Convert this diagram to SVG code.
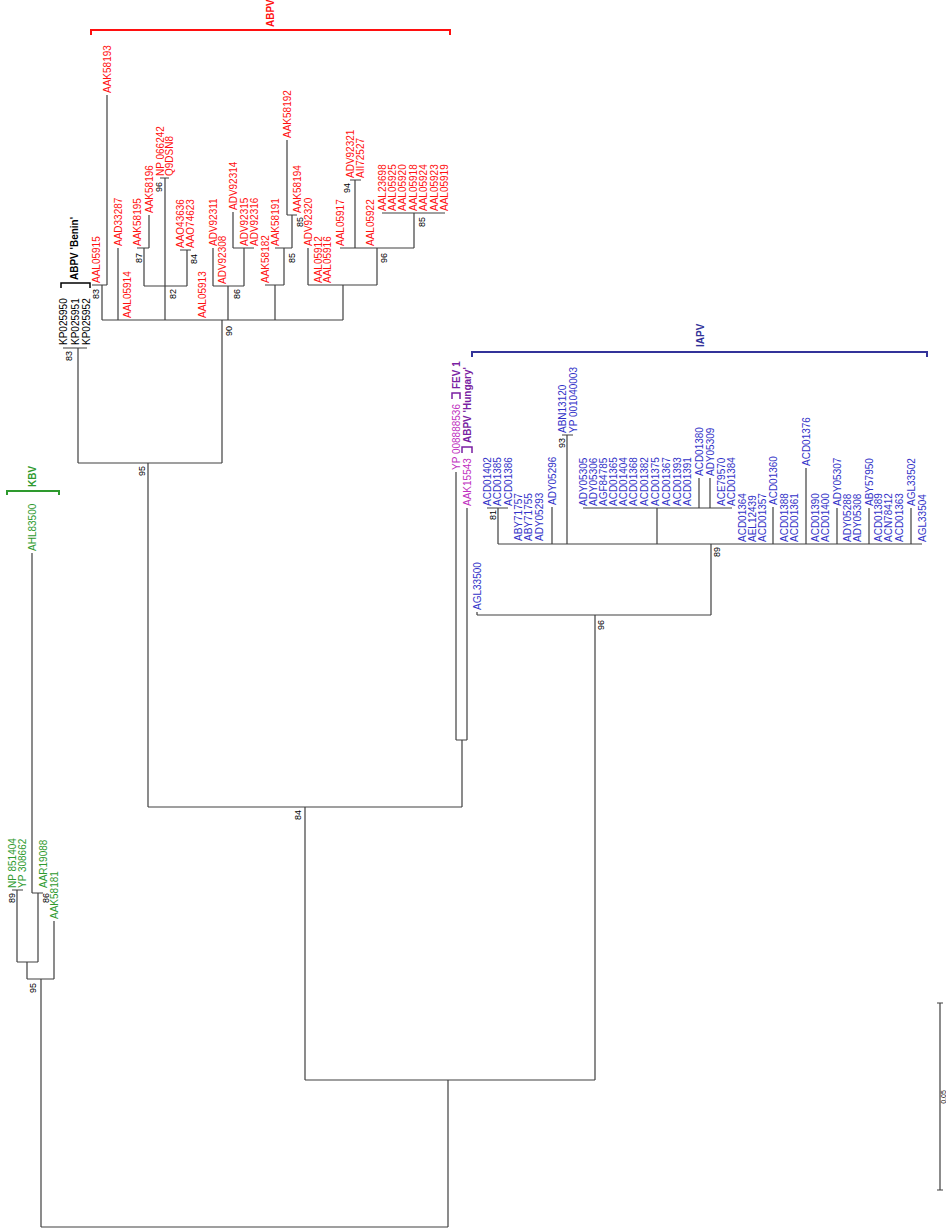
<svg xmlns="http://www.w3.org/2000/svg" width="946" height="1229" viewBox="0 0 946 1229">
<style>
text{font-family:"Liberation Sans",Arial,sans-serif;font-size:10px;dominant-baseline:central}
.r{fill:#ff1010}.k{fill:#000}.b{fill:#3232c8}.p{fill:#c030c0}.g{fill:#2e9a2e}
.bs{font-size:9px;fill:#000;text-anchor:middle}
.hd{font-weight:bold}
.ln{stroke:#404040;stroke-width:1.2;fill:none}
</style>
<rect width="946" height="1229" fill="#fff"/>
<g id="connectors" class="ln">
<path d="M41,1227H448M448,1227V1080M305,1080H595M305,1080V807M148,807H462M148,807V463M78,463H222M78,463V348M63,348H87"/>
<path d="M41,1227V979M27,979H54M54,979V921M27,979V962M17,962H38M17,962V890M12,890H23M38,962V893M32,893H43M32,893V553"/>
<path d="M222,463V320M102,320H343M102,320V285M92,285H107M107,285V95M118,320V248M165,320V178M160,178H169M144,286H187M144,286V248M137,248H149M149,248V215M187,286V250M180,250H191"/>
<path d="M228,320V286M213,286H244M213,286V248M244,286V248M233,248H254M233,248V212"/>
<path d="M275,320V285M265,285H284M284,285V248M275,248H292M292,248V215M287,215H297M287,215V140"/>
<path d="M343,320V285M308,285H377M308,285V248M377,285V248M340,248H414M355,248V180M350,180H361M414,248V213M382,213H445"/>
<path d="M462,807V740M456,740H467M456,740V472M467,740V508"/>
<path d="M595,1080V615M477,615H711M477,615V612M711,615V544M498,544H922M498,544V508M487,508H508M552,544V507M567,544V435M562,435H573M657,544V508M583,508H732M699,508V478M710,508V478M773,544V507M806,544V468M837,544V508M869,544V508M911,544V508"/>
</g>
<g id="brackets" fill="none" stroke-width="2">
<path d="M91,35V30H450V35" stroke="#ff1010"/>
<path d="M472,357V352H927V357" stroke="#333399"/>
<path d="M7,495V491H59V495" stroke="#2e9a2e"/>
<path d="M61,288V283H90V288" stroke="#000" stroke-width="1.5"/>
<path d="M452,399V393H460V399" stroke="#7a1fa2" stroke-width="1.5"/>
<path d="M462,453V447H472V453" stroke="#7a1fa2" stroke-width="1.5"/>
</g>
<g id="clade-labels" class="hd">
<text id="lab-ABPV" class="r" font-size="9" transform="translate(270 27) rotate(-90)">ABPV</text>
<text id="lab-IAPV" fill="#333399" font-size="9" transform="translate(700 347) rotate(-90)">IAPV</text>
<text id="lab-KBV" class="g" font-size="9" transform="translate(32 487) rotate(-90)">KBV</text>
<text id="lab-Benin" class="k" transform="translate(74 280) rotate(-90)">ABPV 'Benin'</text>
<text id="lab-FEV" fill="#7a1fa2" transform="translate(456 389) rotate(-90)">FEV 1</text>
<text id="lab-Hungary" fill="#7a1fa2" transform="translate(467 443) rotate(-90)">ABPV 'Hungary'</text>
</g>
<g id="kbv-tips" class="g">
<g id="n-NP851404"><text transform="translate(12 888) rotate(-90)">NP 851404</text></g>
<g id="n-YP308662"><text transform="translate(22 888) rotate(-90)">YP 308662</text></g>
<g id="n-AAR19088"><text transform="translate(43 888) rotate(-90)">AAR19088</text></g>
<g id="n-AAK58181"><text transform="translate(54 919) rotate(-90)">AAK58181</text></g>
<g id="n-AHL83500"><text transform="translate(32 551) rotate(-90)">AHL83500</text></g>
</g>
<g id="benin-tips" class="k">
<g id="n-KP025950"><text transform="translate(63 345) rotate(-90)">KP025950</text></g>
<g id="n-KP025951"><text transform="translate(75 345) rotate(-90)">KP025951</text></g>
<g id="n-KP025952"><text transform="translate(86 345) rotate(-90)">KP025952</text></g>
</g>
<g id="abpv-tips" class="r">
<g id="n-AAL05915"><text transform="translate(96 283) rotate(-90)">AAL05915</text></g>
<g id="n-AAK58193"><text transform="translate(107 93) rotate(-90)">AAK58193</text></g>
<g id="n-AAD33287"><text transform="translate(118 246) rotate(-90)">AAD33287</text></g>
<g id="n-AAL05914"><text transform="translate(127 318) rotate(-90)">AAL05914</text></g>
<g id="n-AAK58195"><text transform="translate(137 246) rotate(-90)">AAK58195</text></g>
<g id="n-AAK58196"><text transform="translate(149 213) rotate(-90)">AAK58196</text></g>
<g id="n-NP066242"><text transform="translate(160 176) rotate(-90)">NP 066242</text></g>
<g id="n-Q9DSN8"><text transform="translate(169 176) rotate(-90)">Q9DSN8</text></g>
<g id="n-AAO43636"><text transform="translate(180 248) rotate(-90)">AAO43636</text></g>
<g id="n-AAO74623"><text transform="translate(190 248) rotate(-90)">AAO74623</text></g>
<g id="n-AAL05913"><text transform="translate(202 318) rotate(-90)">AAL05913</text></g>
<g id="n-ADV92311"><text transform="translate(213 246) rotate(-90)">ADV92311</text></g>
<g id="n-ADV92308"><text transform="translate(222 284) rotate(-90)">ADV92308</text></g>
<g id="n-ADV92314"><text transform="translate(233 210) rotate(-90)">ADV92314</text></g>
<g id="n-ADV92315"><text transform="translate(244 246) rotate(-90)">ADV92315</text></g>
<g id="n-ADV92316"><text transform="translate(254 246) rotate(-90)">ADV92316</text></g>
<g id="n-AAK58182"><text transform="translate(265 283) rotate(-90)">AAK58182</text></g>
<g id="n-AAK58191"><text transform="translate(275 246) rotate(-90)">AAK58191</text></g>
<g id="n-AAK58192"><text transform="translate(287 138) rotate(-90)">AAK58192</text></g>
<g id="n-AAK58194"><text transform="translate(297 213) rotate(-90)">AAK58194</text></g>
<g id="n-ADV92320"><text transform="translate(308 246) rotate(-90)">ADV92320</text></g>
<g id="n-AAL05912"><text transform="translate(318 283) rotate(-90)">AAL05912</text></g>
<g id="n-AAL05916"><text transform="translate(327 283) rotate(-90)">AAL05916</text></g>
<g id="n-AAL05917"><text transform="translate(340 246) rotate(-90)">AAL05917</text></g>
<g id="n-ADV92321"><text transform="translate(350 178) rotate(-90)">ADV92321</text></g>
<g id="n-AII72527"><text transform="translate(360 178) rotate(-90)">AII72527</text></g>
<g id="n-AAL05922"><text transform="translate(370 246) rotate(-90)">AAL05922</text></g>
<g id="n-AAL23698"><text transform="translate(382 211) rotate(-90)">AAL23698</text></g>
<g id="n-AAL05925"><text transform="translate(392 211) rotate(-90)">AAL05925</text></g>
<g id="n-AAL05920"><text transform="translate(402 211) rotate(-90)">AAL05920</text></g>
<g id="n-AAL05918"><text transform="translate(413 211) rotate(-90)">AAL05918</text></g>
<g id="n-AAL05924"><text transform="translate(423 211) rotate(-90)">AAL05924</text></g>
<g id="n-AAL05923"><text transform="translate(434 211) rotate(-90)">AAL05923</text></g>
<g id="n-AAL05919"><text transform="translate(444 211) rotate(-90)">AAL05919</text></g>
</g>
<g id="hungary-tips" class="p">
<g id="n-YP008888536"><text transform="translate(456 470) rotate(-90)">YP 008888536</text></g>
<g id="n-AAK15543"><text transform="translate(467 506) rotate(-90)">AAK15543</text></g>
</g>
<g id="iapv-tips" class="b">
<g id="n-AGL33500"><text transform="translate(477 610) rotate(-90)">AGL33500</text></g>
<g id="n-ACD01402"><text transform="translate(487 506) rotate(-90)">ACD01402</text></g>
<g id="n-ACD01385"><text transform="translate(497 506) rotate(-90)">ACD01385</text></g>
<g id="n-ACD01386"><text transform="translate(508 506) rotate(-90)">ACD01386</text></g>
<g id="n-ABY71757"><text transform="translate(518 541) rotate(-90)">ABY71757</text></g>
<g id="n-ABY71755"><text transform="translate(528 541) rotate(-90)">ABY71755</text></g>
<g id="n-ADY05293"><text transform="translate(539 541) rotate(-90)">ADY05293</text></g>
<g id="n-ADY05296"><text transform="translate(552 505) rotate(-90)">ADY05296</text></g>
<g id="n-ABN13120"><text transform="translate(562 433) rotate(-90)">ABN13120</text></g>
<g id="n-YP001040003"><text transform="translate(573 433) rotate(-90)">YP 001040003</text></g>
<g id="n-ADY05305"><text transform="translate(583 506) rotate(-90)">ADY05305</text></g>
<g id="n-ADY05306"><text transform="translate(593 506) rotate(-90)">ADY05306</text></g>
<g id="n-AGF84785"><text transform="translate(603 506) rotate(-90)">AGF84785</text></g>
<g id="n-ACD01365"><text transform="translate(613 506) rotate(-90)">ACD01365</text></g>
<g id="n-ACD01404"><text transform="translate(623 506) rotate(-90)">ACD01404</text></g>
<g id="n-ACD01368"><text transform="translate(633 506) rotate(-90)">ACD01368</text></g>
<g id="n-ACD01382"><text transform="translate(644 506) rotate(-90)">ACD01382</text></g>
<g id="n-ACD01375"><text transform="translate(655 506) rotate(-90)">ACD01375</text></g>
<g id="n-ACD01367"><text transform="translate(666 506) rotate(-90)">ACD01367</text></g>
<g id="n-ACD01393"><text transform="translate(677 506) rotate(-90)">ACD01393</text></g>
<g id="n-ACD01391"><text transform="translate(687 506) rotate(-90)">ACD01391</text></g>
<g id="n-ACD01380"><text transform="translate(699 476) rotate(-90)">ACD01380</text></g>
<g id="n-ADY05309"><text transform="translate(710 476) rotate(-90)">ADY05309</text></g>
<g id="n-ACE79570"><text transform="translate(721 506) rotate(-90)">ACE79570</text></g>
<g id="n-ACD01384"><text transform="translate(731 506) rotate(-90)">ACD01384</text></g>
<g id="n-ACD01364"><text transform="translate(742 542) rotate(-90)">ACD01364</text></g>
<g id="n-AEL12439"><text transform="translate(752 542) rotate(-90)">AEL12439</text></g>
<g id="n-ACD01357"><text transform="translate(762 542) rotate(-90)">ACD01357</text></g>
<g id="n-ACD01360"><text transform="translate(773 505) rotate(-90)">ACD01360</text></g>
<g id="n-ACD01388"><text transform="translate(784 542) rotate(-90)">ACD01388</text></g>
<g id="n-ACD01361"><text transform="translate(794 542) rotate(-90)">ACD01361</text></g>
<g id="n-ACD01376"><text transform="translate(806 466) rotate(-90)">ACD01376</text></g>
<g id="n-ACD01390"><text transform="translate(815 542) rotate(-90)">ACD01390</text></g>
<g id="n-ACD01400"><text transform="translate(825 542) rotate(-90)">ACD01400</text></g>
<g id="n-ADY05307"><text transform="translate(837 506) rotate(-90)">ADY05307</text></g>
<g id="n-ADY05288"><text transform="translate(847 542) rotate(-90)">ADY05288</text></g>
<g id="n-ADY05308"><text transform="translate(857 542) rotate(-90)">ADY05308</text></g>
<g id="n-ABY57950"><text transform="translate(869 506) rotate(-90)">ABY57950</text></g>
<g id="n-ACD01389"><text transform="translate(878 542) rotate(-90)">ACD01389</text></g>
<g id="n-ACN78412"><text transform="translate(888 542) rotate(-90)">ACN78412</text></g>
<g id="n-ACD01363"><text transform="translate(899 542) rotate(-90)">ACD01363</text></g>
<g id="n-AGL33502"><text transform="translate(911 506) rotate(-90)">AGL33502</text></g>
<g id="n-AGL33504"><text transform="translate(922 542) rotate(-90)">AGL33504</text></g>
</g>
<g id="bootstrap">
<text class="bs" transform="translate(12 898) rotate(-90)">89</text>
<text class="bs" transform="translate(46 898) rotate(-90)">86</text>
<text class="bs" transform="translate(33 988) rotate(-90)">95</text>
<text class="bs" transform="translate(69 356) rotate(-90)">83</text>
<text class="bs" transform="translate(96 294) rotate(-90)">83</text>
<text class="bs" transform="translate(159 187) rotate(-90)">96</text>
<text class="bs" transform="translate(139 258) rotate(-90)">87</text>
<text class="bs" transform="translate(173 294) rotate(-90)">82</text>
<text class="bs" transform="translate(194 259) rotate(-90)">84</text>
<text class="bs" transform="translate(237 294) rotate(-90)">86</text>
<text class="bs" transform="translate(292 258) rotate(-90)">85</text>
<text class="bs" transform="translate(300 222) rotate(-90)">85</text>
<text class="bs" transform="translate(347 188) rotate(-90)">94</text>
<text class="bs" transform="translate(384 258) rotate(-90)">96</text>
<text class="bs" transform="translate(422 222) rotate(-90)">85</text>
<text class="bs" transform="translate(229 331) rotate(-90)">90</text>
<text class="bs" transform="translate(142 471) rotate(-90)">95</text>
<text class="bs" transform="translate(298 815) rotate(-90)">84</text>
<text class="bs" transform="translate(601 625) rotate(-90)">96</text>
<text class="bs" transform="translate(717 552) rotate(-90)">89</text>
<text class="bs" transform="translate(493 515) rotate(-90)">81</text>
<text class="bs" transform="translate(562 443) rotate(-90)">93</text>
</g>
<g id="scale-bar">
<path class="ln" d="M940,1003V1190M937,1003H943M937,1190H943"/>
<text class="bs" font-size="7" transform="translate(943.5 1097) rotate(-90)" style="font-size:7px">0.05</text>
</g>
</svg>
